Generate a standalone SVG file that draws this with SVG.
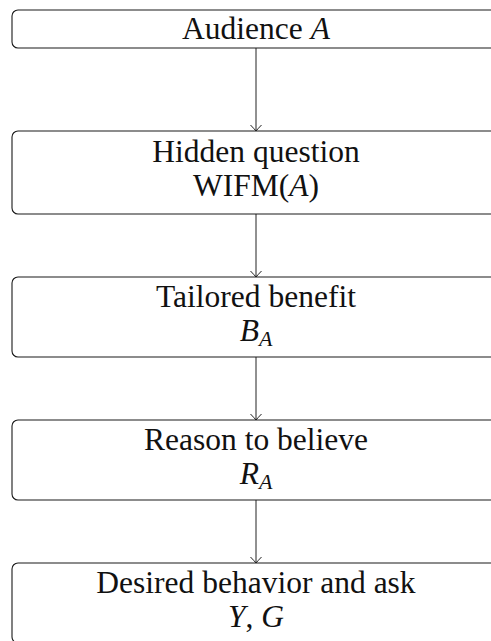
<svg xmlns="http://www.w3.org/2000/svg" width="491" height="641" viewBox="0 0 491 641">
  <defs>
    <style>
      .box { fill: #ffffff; stroke: #1a1a1a; stroke-width: 1.1; }
      .lbl { font-family: "Liberation Serif", "Times New Roman", serif; font-size: 31.5px; fill: #111111; text-anchor: middle; }
      .it { font-style: italic; }
      .sub { font-size: 22px; font-style: italic; }
      .edge { stroke: #222222; stroke-width: 1; fill: none; marker-end: url(#to); }
    </style>
    <marker id="to" viewBox="-7 -7 9 14" refX="0" refY="0" markerWidth="9" markerHeight="14" markerUnits="userSpaceOnUse" orient="auto">
      <path d="M -6 -5.5 Q -1.5 -1.2 0 0 Q -1.5 1.2 -6 5.5" fill="none" stroke="#222222" stroke-width="1"/>
    </marker>
  </defs>

  <!-- connectors -->
  <g id="connectors">
    <line class="edge" x1="256" y1="48" x2="256" y2="131"/>
    <line class="edge" x1="256" y1="214" x2="256" y2="277"/>
    <line class="edge" x1="256" y1="357" x2="256" y2="420"/>
    <line class="edge" x1="256" y1="500" x2="256" y2="563"/>
  </g>

  <g id="audience">
    <rect class="box" x="12" y="10" width="488" height="38" rx="6"/>
    <text class="lbl" x="256" y="39">Audience <tspan class="it">A</tspan></text>
  </g>

  <g id="hidden-question">
    <rect class="box" x="12" y="131" width="488" height="83" rx="6"/>
    <text class="lbl" x="256" y="162">Hidden question</text>
    <text class="lbl" x="256" y="196">WIFM(<tspan class="it">A</tspan>)</text>
  </g>

  <g id="tailored-benefit">
    <rect class="box" x="12" y="277" width="488" height="80" rx="6"/>
    <text class="lbl" x="256" y="307">Tailored benefit</text>
    <text class="lbl" x="256" y="341"><tspan class="it">B</tspan><tspan class="sub" dy="5">A</tspan></text>
  </g>

  <g id="reason-to-believe">
    <rect class="box" x="12" y="420" width="488" height="80" rx="6"/>
    <text class="lbl" x="256" y="450">Reason to believe</text>
    <text class="lbl" x="256" y="484"><tspan class="it">R</tspan><tspan class="sub" dy="5">A</tspan></text>
  </g>

  <g id="desired-behavior">
    <rect class="box" x="12" y="563" width="488" height="80" rx="6"/>
    <text class="lbl" x="256" y="593">Desired behavior and ask</text>
    <text class="lbl" x="256" y="627"><tspan class="it">Y</tspan>, <tspan class="it">G</tspan></text>
  </g>
</svg>
